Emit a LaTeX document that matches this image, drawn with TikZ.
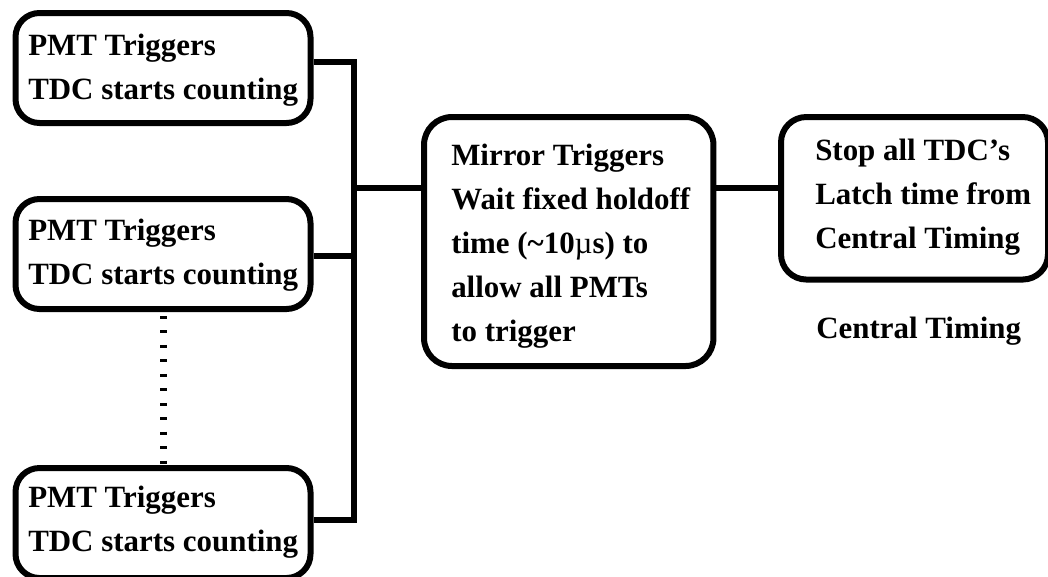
\documentclass[tikz,border=0pt]{standalone}
\usepackage{fontspec}
\setmainfont{Liberation Serif}
\begin{document}
\begin{tikzpicture}[x=0.75pt,y=-0.75pt,
  box/.style={draw, line width=4.5pt, inner sep=0pt, anchor=north west},
  pmtbox/.style={box, rounded corners=18pt, minimum width=221.25pt, minimum height=82.5pt},
  txt/.style={font=\bfseries\fontsize{23.2}{33}\selectfont, align=left, inner sep=0pt, anchor=north west},
  conn/.style={line width=4.5pt, line join=miter},
  dots/.style={line width=5.25pt, dash pattern=on 2.25pt off 8.6pt}]
\useasboundingbox (0,0) rectangle (1048,576);
% boxes
\node[pmtbox] (b1) at (12.5,10) {};
\node[pmtbox] (b2) at (12.5,196) {};
\node[pmtbox] (b3) at (12.5,465) {};
\node[box, rounded corners=21pt, minimum width=217.1pt, minimum height=186.75pt] (m) at (421,114) {};
\node[box, rounded corners=19pt, minimum width=200.25pt, minimum height=121.9pt] (s) at (778,114) {};
% texts
\node[txt] (t1) at (28,34) {PMT Triggers\\TDC starts counting};
\node[txt] (t2) at (28,219) {PMT Triggers\\TDC starts counting};
\node[txt] (t3) at (28,486) {PMT Triggers\\TDC starts counting};
\node[txt] (tm) at (451,144) {Mirror Triggers\\Wait fixed holdoff\\time (\textasciitilde10{\mdseries µ}s) to\\allow all PMTs\\to trigger};
\node[txt] (ts) at (815,139) {Stop all TDC’s\\Latch time from\\Central Timing};
\node[txt, anchor=base west] (ct) at (816,338) {Central Timing};
% connectors
\coordinate (bt) at (353.5,62);
\coordinate (bm) at (353.5,255.5);
\coordinate (bb) at (353.5,520);
\coordinate (j) at (353.5,188);
\draw[conn] (b1.east |- bt) -- (bt) -- (bb) -- (b3.east |- bb);
\draw[conn] (b2.east |- bm) -- (bm);
\draw[conn] (j) -- (j -| m.west);
\draw[conn] (m.east |- j) -- (s.west |- j);
\draw[dots, shorten <=3pt] (b2.south) -- (b3.north);
\end{tikzpicture}
\end{document}
